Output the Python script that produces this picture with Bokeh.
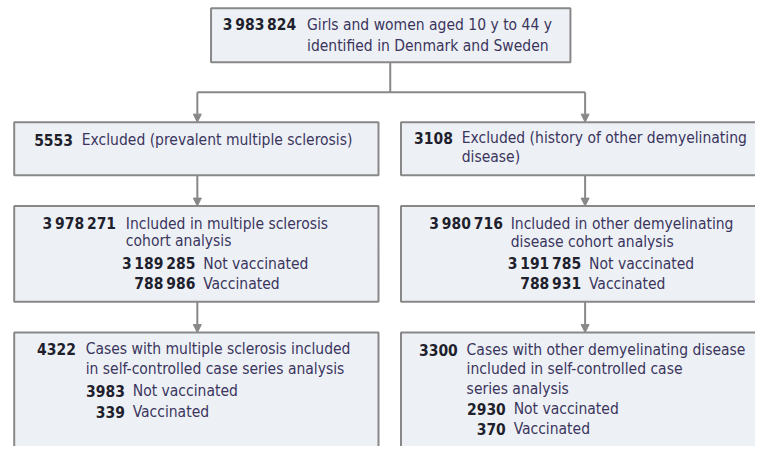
from bokeh.plotting import figure
from bokeh.models import Range1d, Arrow, NormalHead, ColumnDataSource
from bokeh.core.properties import value
from bokeh.embed import file_html
from bokeh.resources import INLINE

TS = "\u2009"

# ---- data (text content of the flowchart) ----
box_counts = ["3" + TS + "983" + TS + "824", "5553", "3108",
              "3" + TS + "978" + TS + "271", "3" + TS + "980" + TS + "716",
              "4322", "3300"]
box_labels = [
    ["Girls and women aged 10 y to 44 y", "identified in Denmark and Sweden"],
    ["Excluded (prevalent multiple sclerosis)"],
    ["Excluded (history of other demyelinating", "disease)"],
    ["Included in multiple sclerosis", "cohort analysis"],
    ["Included in other demyelinating", "disease cohort analysis"],
    ["Cases with multiple sclerosis included", "in self-controlled case series analysis"],
    ["Cases with other demyelinating disease", "included in self-controlled case", "series analysis"],
]
sub_labels = ["Not vaccinated", "Vaccinated"]
sub_counts = {
    3: ["3" + TS + "189" + TS + "285", "788" + TS + "986"],
    4: ["3" + TS + "191" + TS + "785", "788" + TS + "931"],
    5: ["3983", "339"],
    6: ["2930", "370"],
}

# ---- layout (positions in screen pixels of the reference) ----
FONT = "DejaVu Sans Condensed"
FS = "15.5px"
FILL = "#edf1f5"
EDGE = "#888888"
NUM_COLOR = "#1f1f2e"
LAB_COLOR = "#3b355e"

boxes = [(215, 582, 8, 64), (14, 386, 126, 181), (409, 800, 126, 181),
         (14, 386, 213, 312), (409, 800, 213, 312),
         (14, 386, 344, 500), (409, 800, 344, 500)]
main_pos = [  # number right x, label left x, line y's
    (302, 313, [25, 47]),
    (74, 83, [145]),
    (462, 471, [142, 162]),
    (118, 128, [232, 249]),
    (513, 521, [232, 250]),
    (77, 87, [361, 382]),
    (467, 476, [362, 382, 402]),
]
sub_pos = {
    3: (199, 207, [273, 294]),
    4: (593, 601, [273, 294]),
    5: (127, 135, [404, 426]),
    6: (516, 524, [423, 444]),
}

p = figure(width=755, height=446, x_range=Range1d(0, 771), y_range=Range1d(462, 0),
           output_backend="svg", toolbar_location=None, min_border=0)
p.axis.visible = False
p.grid.visible = False
p.outline_line_color = None
p.background_fill_color = "white"
p.border_fill_color = "white"

# connectors
p.segment(x0=[398, 201], y0=[64, 95], x1=[398, 597], y1=[95, 95],
          line_color=EDGE, line_width=2)
arrows = [(201, 95, 126), (597, 95, 126), (201, 181, 213), (597, 181, 213),
          (201, 312, 344), (597, 312, 344)]
for x, y0, y1 in arrows:
    p.add_layout(Arrow(x_start=x, y_start=y0, x_end=x, y_end=y1, line_color=EDGE,
                       line_width=2,
                       end=NormalHead(size=8, fill_color=EDGE, line_color=EDGE, line_width=1)))

# boxes
p.quad(left=[b[0] for b in boxes], right=[b[1] for b in boxes],
       top=[b[2] for b in boxes], bottom=[b[3] for b in boxes],
       fill_color=FILL, line_color=EDGE, line_width=2)

# texts
nx, ny, nt = [], [], []
lx, ly, lt = [], [], []
for i, (cnt, lab) in enumerate(zip(box_counts, box_labels)):
    rx, tx, ys = main_pos[i]
    nx.append(rx); ny.append(ys[0]); nt.append(cnt)
    for y, line in zip(ys, lab):
        lx.append(tx); ly.append(y); lt.append(line)
    if i in sub_counts:
        srx, stx, sys_ = sub_pos[i]
        for y, c, l in zip(sys_, sub_counts[i], sub_labels):
            nx.append(srx); ny.append(y); nt.append(c)
            lx.append(stx); ly.append(y); lt.append(l)

p.text(x="x", y="y", text="t", source=ColumnDataSource(dict(x=nx, y=ny, t=nt)),
       text_align="right", text_baseline="middle", text_font=value(FONT),
       text_font_size=FS, text_font_style="bold", text_color=NUM_COLOR)
p.text(x="x", y="y", text="t", source=ColumnDataSource(dict(x=lx, y=ly, t=lt)),
       text_align="left", text_baseline="middle", text_font=value(FONT),
       text_font_size=FS, text_color=LAB_COLOR)

open("out.html", "w").write(file_html(p, INLINE))
